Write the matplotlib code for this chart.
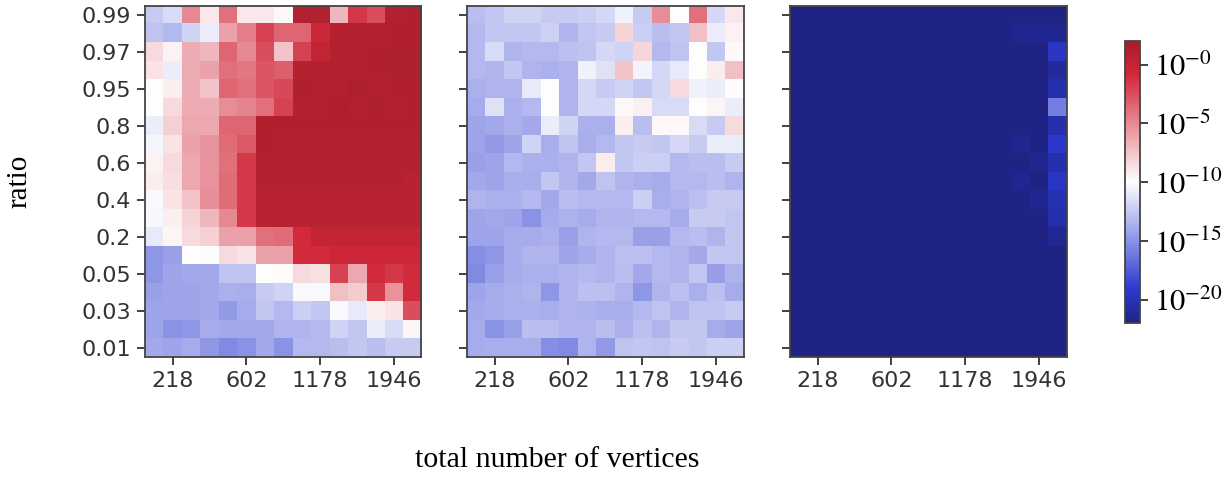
import numpy as np
import matplotlib
matplotlib.use("Agg")
import matplotlib.pyplot as plt
from matplotlib.colors import LogNorm, LinearSegmentedColormap

# rows = ratio (top to bottom), columns = total number of vertices
ratios = [0.99, 0.98, 0.97, 0.96, 0.95, 0.9, 0.8, 0.7, 0.6, 0.5,
          0.4, 0.3, 0.2, 0.1, 0.05, 0.04, 0.03, 0.02, 0.01]
vertices = [152, 218, 296, 386, 488, 602, 728, 866, 1016, 1178,
            1352, 1538, 1736, 1946, 2168]

# log10 of the plotted values
left_log = [
    [-12.4, -11.6, -5, -9, -4, -9, -9, -9.7, 1, 1, -7, -1.5, -2.5, 1, 1.2],
    [-12.8, -13.2, -12, -10.8, -6, -4.5, -2, -3.5, -3.5, -0.5, 0.8, 1, 1, 1.1, 1.1],
    [-8.5, -9.5, -6.5, -7, -3.5, -5, -2.5, -7.5, -2, 0, 1, 1, 1.1, 1.2, 1.2],
    [-8.8, -10.8, -6.5, -6, -4, -4.2, -2.8, -3.2, 0.8, 1, 1, 1, 1.1, 1.2, 1.2],
    [-10, -9.3, -6.5, -7.5, -3.5, -4, -2.8, -2.3, 1.3, 1, 1, 1.3, 1, 1.1, 1.1],
    [-10, -8.5, -6.5, -6.5, -5.2, -4.8, -4, -2, 1, 1, 1.3, 1, 1.3, 1, 1.1],
    [-10.8, -8, -6.3, -6.3, -3.5, -3.5, 1.1, 1.1, 1.1, 1.1, 1.1, 1.1, 1.1, 1.1, 1.1],
    [-10.4, -8.8, -6, -5.5, -3.8, -3, 1.1, 1, 1, 1, 1, 1, 1, 1, 1],
    [-9.5, -8.5, -6.3, -5.5, -4, -1.5, 0.9, 0.9, 0.9, 0.9, 0.9, 0.9, 0.9, 0.9, 0.8],
    [-9.2, -8.6, -6.3, -5.5, -3.8, -1.5, 0.8, 0.8, 0.8, 0.8, 0.8, 0.8, 0.8, 0.8, 0.7],
    [-10.2, -8.8, -7.5, -5.3, -3.8, -1.5, 0.7, 0.7, 0.7, 0.7, 0.7, 0.7, 0.7, 0.7, 0.7],
    [-10.3, -9.3, -8.2, -7, -5, -1.5, 0.6, 0.6, 0.6, 0.6, 0.6, 0.6, 0.6, 0.6, 0.6],
    [-11, -9.6, -8.5, -8, -6, -6, -4, -3.8, -1, 0, 0, 0, 0, 0, 0],
    [-14.8, -14.4, -10, -9.9, -8.5, -8.8, -6, -6, -1, -1, -0.5, -0.5, -0.5, -0.5, -0.5],
    [-14.8, -14.2, -14, -14, -12.8, -12.8, -10, -9.9, -8.5, -8.7, -2, -6.3, -1, -1.5, -1],
    [-14.4, -14.2, -14.2, -14, -13.6, -13.7, -12.4, -12, -10.2, -10.2, -7.3, -7.8, -1.5, -5.5, -1],
    [-14.2, -14.2, -14.2, -14, -14.6, -13.8, -12.6, -13.2, -12.2, -12.6, -10.2, -11, -9.3, -8.8, -2.5],
    [-14.2, -15, -14.8, -13.8, -14, -14, -14, -13.4, -13.4, -13.2, -12, -12.6, -10.8, -11.6, -9.6],
    [-14, -14.2, -13.8, -14.8, -15.4, -15, -14, -15, -13.2, -13.2, -13, -12.6, -13, -12.4, -12.4],
]

middle_log = [
    [-13, -12.6, -12, -12, -12.4, -12.4, -12.2, -11.8, -10.6, -12.4, -5.2, -10, -4, -11.8, -9],
    [-13.2, -12.6, -12.6, -12.6, -12.1, -13.4, -12.7, -12.4, -8.2, -12.2, -13, -12.6, -7.3, -10.8, -9.5],
    [-13.2, -11.6, -13.4, -13.2, -13.2, -12.9, -12.8, -11.8, -12, -8.3, -13.2, -12.8, -10, -12.6, -9.8],
    [-13.2, -13.4, -12.6, -13.4, -13.6, -13.4, -10.6, -11.4, -7.5, -10.5, -11.8, -11, -10, -9.2, -7.3],
    [-13.6, -13.4, -13.4, -11, -10, -13.4, -11.8, -12.4, -12, -12.6, -11.8, -8.5, -10.6, -10.8, -9.9],
    [-13.8, -11.4, -13.6, -13.2, -10, -13.4, -11.8, -11.8, -9.7, -9.4, -11.6, -11.6, -10, -9.6, -10.8],
    [-14.2, -14, -13.6, -14, -10.8, -12, -13.6, -13.6, -9.3, -13, -9.7, -9.7, -11.6, -12.4, -8.5],
    [-14.2, -14.6, -14.2, -12, -13.7, -12.8, -13.7, -13.2, -12.6, -12.4, -12.6, -11.8, -12.4, -10.8, -10.8],
    [-14.4, -14.2, -13.2, -13.6, -13.6, -13.4, -12.6, -9.2, -12.6, -12.2, -12.2, -13.2, -13, -13, -12.4],
    [-14, -14.2, -13.7, -13.7, -12.6, -13.4, -14, -12.8, -13.4, -13.6, -13.8, -13.2, -13.2, -13, -13.4],
    [-13.4, -13.6, -13.6, -13.2, -14, -13, -13.2, -13.2, -13.2, -12.2, -13.7, -13.4, -12.9, -12.4, -12.4],
    [-14.2, -14, -14.2, -15, -13.8, -13.5, -13.8, -13.4, -13.4, -13.2, -13.2, -13.8, -12.4, -12.4, -12.7],
    [-14.2, -14.2, -13.8, -13.8, -13.6, -14.4, -13.4, -13.2, -13.2, -14.4, -14.4, -13.2, -13, -13.4, -12.6],
    [-15.2, -14.8, -13.8, -13.4, -13.4, -14.2, -13.8, -13.4, -12.9, -12.9, -13.2, -13.4, -14, -12.6, -12.6],
    [-15.4, -14.4, -13.8, -13.6, -13.6, -13.4, -13.2, -13.4, -13, -14, -13.2, -13.4, -12.7, -14.5, -13.5],
    [-14.2, -13.8, -13.6, -13.4, -14.8, -13.4, -12.9, -12.9, -13.4, -14.8, -13.4, -12.9, -13.6, -12.9, -13.8],
    [-14, -13.8, -13.6, -13.6, -13.7, -13.4, -13.5, -13.7, -13.7, -13.2, -12.8, -13.4, -12.8, -12.8, -12.4],
    [-13.8, -15, -14.4, -13, -13, -13.4, -13.4, -13, -13.6, -12.9, -13.4, -12.6, -12.6, -13.8, -14.2],
    [-13.8, -13.7, -13.7, -13.7, -15.2, -15.4, -13.4, -14.6, -12.8, -12.6, -12.8, -12.4, -12.6, -12.2, -12.2],
]

# right panel: almost everything below the colour range
right_floor = -24
right_cells = {  # (row, col): log10 value
    (1, 12): -21.5, (1, 13): -21.5, (1, 14): -21.5,
    (2, 12): -22.3, (2, 14): -19.5,
    (3, 14): -21,
    (4, 13): -22.2, (4, 14): -20.5,
    (5, 14): -16,
    (6, 14): -20.5,
    (7, 12): -21.5, (7, 14): -19.3,
    (8, 13): -21.5, (8, 14): -20.5,
    (9, 12): -21.5, (9, 13): -22.3, (9, 14): -19.5,
    (10, 13): -21.5, (10, 14): -20.2,
    (11, 14): -20.5,
    (12, 14): -21.3,
}

right_log = np.full((len(ratios), len(vertices)), right_floor, dtype=float)
for (r, c), v in right_cells.items():
    right_log[r, c] = v

cmap = LinearSegmentedColormap.from_list("bwr_dark", [
    (0.0, "#1f2383"),
    (0.12, "#2b3ad0"),
    (0.5, "#ffffff"),
    (0.88, "#d2293b"),
    (1.0, "#a51d2a"),
])
norm = LogNorm(vmin=1e-22, vmax=1e2)

plt.rcParams["mathtext.fontset"] = "stix"
text_col = "#333333"

fig = plt.figure(figsize=(12.31, 4.8), dpi=100)
lefts = [0.1178, 0.3794, 0.6418]
panels = [left_log, middle_log, right_log]

for i, (x0, data) in enumerate(zip(lefts, panels)):
    ax = fig.add_axes([x0, 0.2563, 0.2246, 0.7313])
    im = ax.imshow(np.power(10.0, np.array(data, dtype=float)), cmap=cmap,
                   norm=norm, aspect="auto", interpolation="nearest")
    ax.set_xticks(range(1, len(vertices), 4))
    ax.set_xticklabels([str(v) for v in vertices[1::4]])
    ax.set_yticks(range(0, len(ratios), 2))
    if i == 0:
        ax.set_yticklabels([str(r) for r in ratios[::2]])
    else:
        ax.set_yticklabels([])
    ax.tick_params(labelsize=16, colors=text_col, length=6, width=1.3, pad=4)
    for s in ax.spines.values():
        s.set_color("#444444")
        s.set_linewidth(1.3)

cax = fig.add_axes([0.9139, 0.327, 0.0122, 0.5875])
cb = fig.colorbar(im, cax=cax)
cb_ticks = [1, 1e-5, 1e-10, 1e-15, 1e-20]
cb.set_ticks(cb_ticks)
cb.set_ticklabels([r"$10^{-0}$", r"$10^{-5}$", r"$10^{-10}$", r"$10^{-15}$", r"$10^{-20}$"])
cb.ax.minorticks_off()
cb.ax.tick_params(labelsize=22, colors="black", length=6, width=1.3, pad=4)
cb.ax.tick_params(color=text_col)
cb.outline.set_edgecolor("#444444")
cb.outline.set_linewidth(1.3)

fig.text(0.005, 0.622, "ratio", rotation=90, ha="left", va="center",
         fontsize=21, family="Liberation Serif")
fig.text(0.453, 0.042, "total number of vertices", ha="center", va="center",
         fontsize=21.5, family="Liberation Serif")

fig.savefig("out.png", dpi=100)
